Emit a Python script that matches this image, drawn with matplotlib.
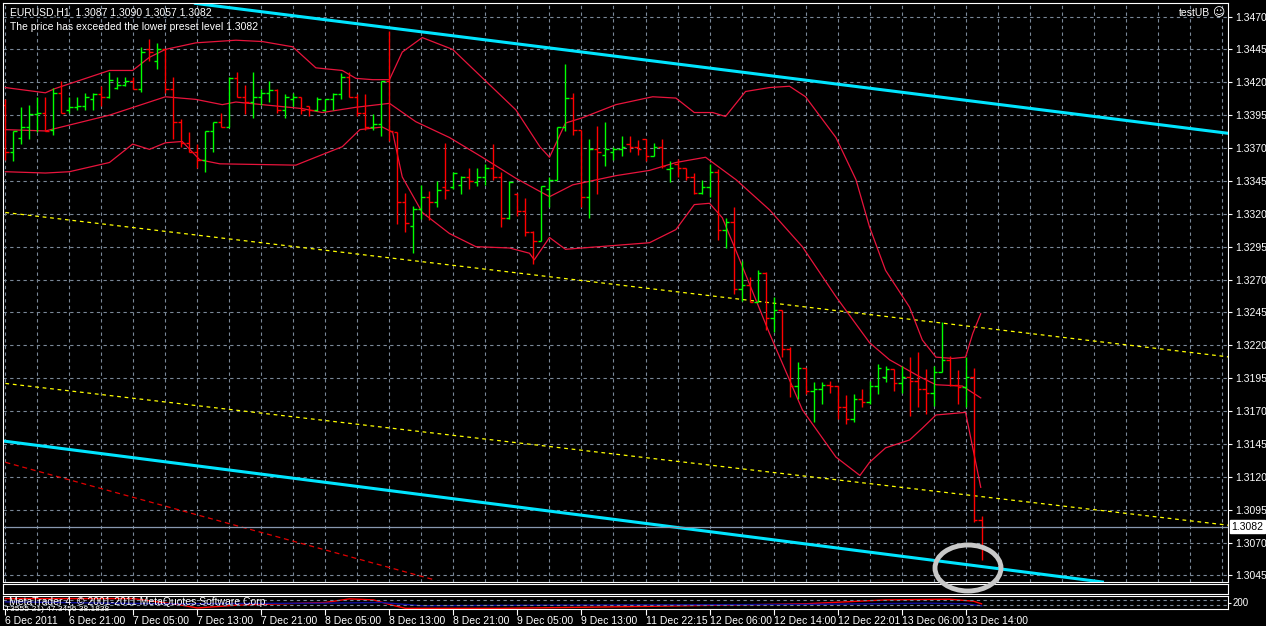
import numpy as np
import matplotlib
matplotlib.use("Agg")
from matplotlib import pyplot as plt
from matplotlib.patches import Ellipse

plt.rcParams['font.family'] = ['Liberation Sans', 'DejaVu Sans']

# EURUSD H1 bars (open, high, low, close), bar 0 = 6 Dec 2011 13:00
opens = [1.3403, 1.3367, 1.3378, 1.3386, 1.3396, 1.3397, 1.3384, 1.3412, 1.3399, 1.3401,
         1.3402, 1.3407, 1.3411, 1.3409, 1.3416, 1.3418, 1.3421, 1.3415, 1.3445, 1.3436,
         1.3445, 1.3415, 1.3390, 1.3374, 1.3367, 1.3361, 1.3383, 1.3390, 1.3386, 1.3423,
         1.3409, 1.3405, 1.3409, 1.3412, 1.3414, 1.3399, 1.3407, 1.3409, 1.3402, 1.3399,
         1.3399, 1.3407, 1.3411, 1.3424, 1.3409, 1.3397, 1.3386, 1.3388, 1.3421, 1.3382,
         1.3329, 1.3311, 1.3324, 1.3333, 1.3329, 1.3340, 1.3340, 1.3342, 1.3348, 1.3344,
         1.3348, 1.3355, 1.3348, 1.3317, 1.3335, 1.3322, 1.3306, 1.3299, 1.3339, 1.3346,
         1.3386, 1.3408, 1.3384, 1.3333, 1.3369, 1.3365, 1.3367, 1.3369, 1.3373, 1.3371,
         1.3377, 1.3364, 1.3371, 1.3354, 1.3358, 1.3355, 1.3348, 1.3336, 1.3340, 1.3352,
         1.3308, 1.3314, 1.3263, 1.3266, 1.3253, 1.3275, 1.3241, 1.3247, 1.3217, 1.3189,
         1.3203, 1.3185, 1.3187, 1.3190, 1.3189, 1.3173, 1.3164, 1.3179, 1.3177, 1.3189,
         1.3196, 1.3202, 1.3191, 1.3196, 1.3193, 1.3187, 1.3184, 1.3200, 1.3209, 1.3190,
         1.3188, 1.3196, 1.3087]
highs = [1.3407, 1.3383, 1.3401, 1.3403, 1.3409, 1.3409, 1.3416, 1.3421, 1.3409, 1.3409,
         1.3412, 1.3412, 1.3417, 1.3428, 1.3424, 1.3424, 1.3424, 1.3447, 1.3453, 1.3450,
         1.3445, 1.3424, 1.3392, 1.3382, 1.3373, 1.3383, 1.3390, 1.3397, 1.3424, 1.3428,
         1.3418, 1.3428, 1.3415, 1.3421, 1.3415, 1.3411, 1.3412, 1.3409, 1.3402, 1.3409,
         1.3407, 1.3412, 1.3427, 1.3428, 1.3411, 1.3411, 1.3396, 1.3421, 1.3459, 1.3382,
         1.3336, 1.3326, 1.3342, 1.3337, 1.3345, 1.3374, 1.3352, 1.3349, 1.3355, 1.3355,
         1.3358, 1.3373, 1.3352, 1.3345, 1.3336, 1.3332, 1.3307, 1.3341, 1.3348, 1.3386,
         1.3434, 1.3412, 1.3384, 1.3377, 1.3387, 1.3390, 1.3371, 1.3379, 1.3379, 1.3376,
         1.3377, 1.3374, 1.3377, 1.3360, 1.3362, 1.3355, 1.3351, 1.3346, 1.3358, 1.3354,
         1.3317, 1.3325, 1.3284, 1.3272, 1.3277, 1.3276, 1.3257, 1.3247, 1.3219, 1.3207,
         1.3203, 1.3192, 1.3192, 1.3193, 1.3189, 1.3182, 1.3183, 1.3187, 1.3193, 1.3206,
         1.3204, 1.3202, 1.3204, 1.3211, 1.3215, 1.3202, 1.3204, 1.3238, 1.3212, 1.3201,
         1.3211, 1.3203, 1.3090]
lows = [1.3361, 1.3360, 1.3373, 1.3377, 1.3382, 1.3383, 1.3380, 1.3397, 1.3397, 1.3399,
        1.3399, 1.3399, 1.3402, 1.3408, 1.3415, 1.3417, 1.3415, 1.3413, 1.3436, 1.3430,
        1.3412, 1.3377, 1.3371, 1.3367, 1.3355, 1.3352, 1.3367, 1.3386, 1.3386, 1.3409,
        1.3396, 1.3393, 1.3403, 1.3405, 1.3397, 1.3393, 1.3402, 1.3396, 1.3394, 1.3398,
        1.3398, 1.3399, 1.3407, 1.3409, 1.3394, 1.3384, 1.3384, 1.3379, 1.3375, 1.3312,
        1.3306, 1.3290, 1.3316, 1.3315, 1.3325, 1.3331, 1.3339, 1.3335, 1.3339, 1.3341,
        1.3342, 1.3346, 1.3310, 1.3316, 1.3318, 1.3303, 1.3282, 1.3299, 1.3325, 1.3346,
        1.3383, 1.3380, 1.3325, 1.3317, 1.3335, 1.3356, 1.3361, 1.3364, 1.3367, 1.3365,
        1.3360, 1.3364, 1.3355, 1.3344, 1.3348, 1.3346, 1.3335, 1.3335, 1.3333, 1.3300,
        1.3294, 1.3259, 1.3254, 1.3253, 1.3253, 1.3232, 1.3230, 1.3211, 1.3181, 1.3179,
        1.3183, 1.3162, 1.3175, 1.3184, 1.3164, 1.3160, 1.3162, 1.3173, 1.3175, 1.3183,
        1.3192, 1.3185, 1.3184, 1.3166, 1.3173, 1.3168, 1.3174, 1.3200, 1.3189, 1.3175,
        1.3173, 1.3086, 1.3057]
closes = [1.3367, 1.3383, 1.3386, 1.3396, 1.3397, 1.3383, 1.3412, 1.3397, 1.3401, 1.3402,
          1.3409, 1.3411, 1.3409, 1.3422, 1.3418, 1.3421, 1.3415, 1.3443, 1.3443, 1.3445,
          1.3415, 1.3390, 1.3374, 1.3367, 1.3361, 1.3383, 1.3390, 1.3386, 1.3423, 1.3409,
          1.3405, 1.3409, 1.3412, 1.3414, 1.3399, 1.3409, 1.3409, 1.3399, 1.3399, 1.3407,
          1.3407, 1.3411, 1.3424, 1.3409, 1.3397, 1.3386, 1.3388, 1.3421, 1.3383, 1.3329,
          1.3313, 1.3324, 1.3333, 1.3329, 1.3338, 1.3338, 1.3351, 1.3348, 1.3345, 1.3348,
          1.3355, 1.3348, 1.3317, 1.3344, 1.3322, 1.3306, 1.3299, 1.3341, 1.3346, 1.3386,
          1.3408, 1.3384, 1.3333, 1.3369, 1.3367, 1.3369, 1.3369, 1.3371, 1.3371, 1.3369,
          1.3364, 1.3371, 1.3356, 1.3355, 1.3355, 1.3348, 1.3336, 1.3340, 1.3352, 1.3308,
          1.3314, 1.3263, 1.3266, 1.3253, 1.3275, 1.3241, 1.3247, 1.3217, 1.3189, 1.3203,
          1.3185, 1.3187, 1.3190, 1.3189, 1.3173, 1.3164, 1.3179, 1.3177, 1.3189, 1.3203,
          1.3202, 1.3191, 1.3196, 1.3193, 1.3187, 1.3184, 1.3200, 1.3209, 1.3190, 1.3188,
          1.3196, 1.3087, 1.3082]

# Bollinger bands read at key bars
upper_x = [0, 5, 6.1, 13, 15.9, 18, 20, 23.8, 28.8, 32.1, 35.9, 38.8, 42.1, 43.8, 45.9, 48,
           49.6, 52.1, 55.9, 63.8, 66.8, 68, 70, 72.1, 76.3, 80.9, 83.8, 86.1, 88.4, 90, 92.5,
           95.5, 98, 100, 103.8, 106.3, 108, 110, 113, 114.6, 116.3, 118.4, 120, 120.9, 121.9]
upper_y = [1.3416, 1.3412, 1.3415, 1.3429, 1.3429, 1.3439, 1.3445, 1.3450, 1.3452, 1.3451,
           1.3447, 1.3431, 1.3429, 1.3423, 1.3422, 1.3422, 1.3443, 1.3454, 1.3445, 1.3399,
           1.3371, 1.3363, 1.3389, 1.3393, 1.3403, 1.3409, 1.3408, 1.3397, 1.3397, 1.3394,
           1.3413, 1.3416, 1.3417, 1.3409, 1.3378, 1.3346, 1.3310, 1.3277, 1.3249, 1.3224,
           1.3211, 1.3210, 1.3211, 1.3229, 1.3244]
mid_x = [0, 5, 13, 20, 23.8, 27.1, 28.8, 37.1, 39.6, 43.8, 48, 51.3, 55.5, 59.6, 63.8, 68,
         70.9, 76.3, 80.5, 83.8, 87.5, 91.3, 95.5, 99.6, 103.8, 108, 110.5, 114.3, 116.3,
         119.6, 121.9]
mid_y = [1.3384, 1.3383, 1.3395, 1.3409, 1.3407, 1.3403, 1.3405, 1.3400, 1.3397, 1.3401,
         1.3404, 1.3390, 1.3378, 1.3363, 1.3347, 1.3333, 1.3342, 1.3349, 1.3353, 1.3359,
         1.3363, 1.3346, 1.3323, 1.3295, 1.3257, 1.3222, 1.3209, 1.3196, 1.3190, 1.3189,
         1.3180]
lower_x = [0, 5, 8, 13, 15.9, 18, 20, 22.1, 24.3, 26.8, 36.3, 39.6, 42.1, 44.3, 47.1, 48.4,
           49.6, 52.1, 55.5, 58.8, 63, 65.5, 66.1, 68, 70, 76.3, 80.5, 83.8, 86.1, 88, 89.6,
           91.3, 95.5, 99.6, 103.8, 106.8, 108, 110, 113, 114.6, 116.3, 120, 121.9]
lower_y = [1.3352, 1.3351, 1.3352, 1.3359, 1.3373, 1.3369, 1.3374, 1.3375, 1.3361, 1.3358,
           1.3357, 1.3365, 1.3371, 1.3384, 1.3386, 1.3382, 1.3348, 1.3321, 1.3305, 1.3295,
           1.3294, 1.3290, 1.3285, 1.3302, 1.3293, 1.3296, 1.3298, 1.3308, 1.3327, 1.3328,
           1.3317, 1.3292, 1.3229, 1.3171, 1.3135, 1.3121, 1.3131, 1.3142, 1.3148, 1.3157,
           1.3167, 1.3169, 1.3112]

# trend lines: (x0, y0, x1, y1) in bars / price
cyan_lines = [(23.75, 1.3480, 153.1, 1.3381), (0, 1.3147, 137.1, 1.3040)]
yellow_lines = [(0, 1.3321, 153.1, 1.3211), (0, 1.3191, 153.1, 1.3083)]
red_dash_line = (0, 1.3131, 53.4, 1.3042)
last_price = 1.3082

# sub-window indicator
ind_red_x = [0, 16, 22, 24, 29, 40, 43, 46, 48, 50, 62, 80, 100, 110, 118, 121, 122]
ind_red_y = [80, 80, 30, 8, 30, 50, 78, 70, 35, 5, 5, 20, 40, 70, 75, 60, 40]
ind_blue_x = [0, 20, 40, 47, 52, 70, 100, 115, 120, 122]
ind_blue_y = [55, 40, 45, 50, 25, 30, 35, 45, 40, 25]

price_ticks = [1.3045 + 0.0025 * k for k in range(18)]
time_labels = ["6 Dec 2011", "6 Dec 21:00", "7 Dec 05:00", "7 Dec 13:00", "7 Dec 21:00",
               "8 Dec 05:00", "8 Dec 13:00", "8 Dec 21:00", "9 Dec 05:00", "9 Dec 13:00",
               "11 Dec 22:15", "12 Dec 06:00", "12 Dec 14:00", "12 Dec 22:01", "13 Dec 06:00",
               "13 Dec 14:00"]
time_pos = [8 * k for k in range(len(time_labels))]

W, H = 1266, 626
GRID = '#7a8898'
fig = plt.figure(figsize=(W / 100, H / 100), dpi=100, facecolor='black')

def fbox(x0, y0, x1, y1):
    return [x0 / W, 1 - y1 / H, (x1 - x0) / W, (y1 - y0) / H]

XL = (-0.3, 152.8)
ax = fig.add_axes(fbox(3, 3, 1228, 582), facecolor='black')
ax.set_xlim(*XL)
ax.set_ylim(1.30400, 1.34803)
for s in ax.spines.values():
    s.set_color('white')
ax.set_xticks(np.arange(0, 153, 4))
ax.set_yticks(price_ticks)
ax.set_yticklabels(['%.4f' % t for t in price_ticks])
ax.grid(True, color=GRID, linestyle=(0, (3, 3)), linewidth=0.8)
ax.tick_params(axis='x', length=0, labelbottom=False)
ax.tick_params(axis='y', left=False, right=True, labelleft=False, labelright=True,
               colors='white', labelsize=7.5, length=3, pad=2)

# trend lines
for x0, y0, x1, y1 in cyan_lines:
    ax.plot([x0, x1], [y0, y1], color='#00e5ff', linewidth=2.2)
for x0, y0, x1, y1 in yellow_lines:
    ax.plot([x0, x1], [y0, y1], color='#ffff00', linewidth=0.9, linestyle=(0, (3, 3)))
ax.plot(red_dash_line[0::2], red_dash_line[1::2], color='#e00000', linewidth=0.9,
        linestyle=(0, (4, 3)))

# bands
for bx, by in [(upper_x, upper_y), (mid_x, mid_y), (lower_x, lower_y)]:
    ax.plot(bx, by, color='#e8143c', linewidth=0.9)

# OHLC bars
idx = np.arange(len(closes))
o, h, l, c = map(np.array, (opens, highs, lows, closes))
cols = np.where(c > o, '#00ff00', '#ff0000')
ax.vlines(idx, l, h, colors=cols, linewidth=1)
ax.hlines(o, idx - 0.4, idx, colors=cols, linewidth=1)
ax.hlines(c, idx, idx + 0.4, colors=cols, linewidth=1)

ax.axhline(last_price, color='#8898b0', linewidth=0.9)
ax.text(1.003, last_price, '%.4f' % last_price, transform=ax.get_yaxis_transform(),
        va='center', ha='left', fontsize=7.5, color='black',
        bbox=dict(boxstyle='square,pad=0.15', fc='white', ec='white'))

ax.text(0.006, 0.992, 'EURUSD,H1  1.3087 1.3090 1.3057 1.3082', transform=ax.transAxes,
        color='white', fontsize=7.5, va='top')
ax.text(0.006, 0.968, 'The price has exceeded the lower preset level 1.3082',
        transform=ax.transAxes, color='white', fontsize=7.5, va='top')
ax.text(0.985, 0.992, 'testUB', transform=ax.transAxes, color='white',
        fontsize=7.5, va='top', ha='right')
ax.text(0.997, 0.994, '\u263a', transform=ax.transAxes, color='white',
        fontsize=8.5, va='top', ha='right', family='DejaVu Sans')

# empty sub window
ax2 = fig.add_axes(fbox(3, 584, 1228, 594), facecolor='black')
ax2.set_xticks([]); ax2.set_yticks([])
for s in ax2.spines.values():
    s.set_color('white')

# indicator sub window
ax3 = fig.add_axes(fbox(3, 596, 1228, 609), facecolor='black')
ax3.set_xlim(*XL)
ax3.set_ylim(0, 100)
for s in ax3.spines.values():
    s.set_color('white')
ax3.plot(ind_red_x, ind_red_y, color='#ff0000', linewidth=1)
ax3.plot(ind_blue_x, ind_blue_y, color='#1010a0', linewidth=1)
for lv in (30, 70):
    ax3.axhline(lv, color=GRID, linestyle=(0, (3, 3)), linewidth=0.8)
ax3.set_yticks([50])
ax3.set_yticklabels(['200'])
ax3.tick_params(axis='y', left=False, right=True, labelleft=False, labelright=True,
                colors='white', labelsize=7, length=2, pad=1)
ax3.set_xticks(time_pos)
ax3.set_xticklabels(time_labels, ha='left')
ax3.tick_params(axis='x', colors='white', labelsize=7.5, length=4, direction='out', pad=1)
ax3.text(0.005, 0.95, 'MetaTrader 4, \u00a9 2001-2011 MetaQuotes Software Corp.',
         transform=ax3.transAxes, color='white', fontsize=7.5, va='top')
ax3.text(0.002, -0.05, 'T3555-21) 47.3456 38.1838', transform=ax3.transAxes,
         color='white', fontsize=6, va='center')

# grey marker drawn around the last bars
fig.patches.append(Ellipse((968 / W, 1 - 568 / H), 66 / W, 46 / H, transform=fig.transFigure,
                           fill=False, ec='#c8c8c8', lw=3.5))

fig.savefig('out.png', dpi=100, facecolor='black')
